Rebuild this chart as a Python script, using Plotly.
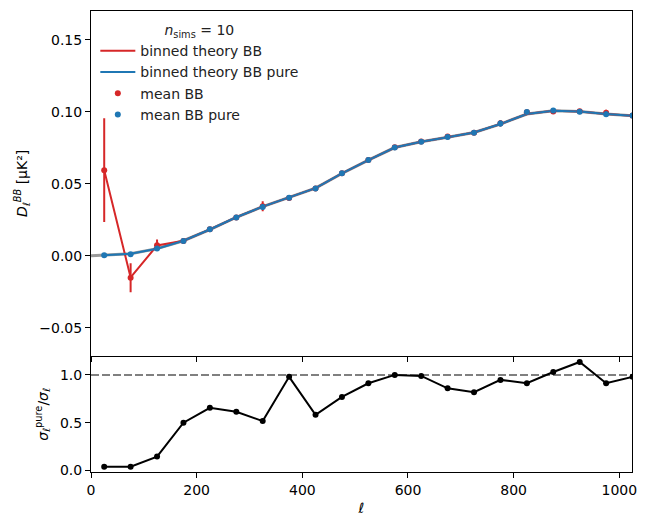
import plotly.graph_objects as go

# multipole bin centres
ell = [25, 75, 125, 175, 225, 275, 325, 375, 425, 475, 525,
       575, 625, 675, 725, 775, 825, 875, 925, 975, 1025]

# unbinned theory (grey underlay)
ell_full = [0, 25, 75, 125, 175, 225, 275, 325, 375, 425, 475, 525,
            575, 625, 675, 725, 775, 825, 875, 925, 975, 1025]
theory_full = [0.0, 0.0005, 0.0015, 0.0050, 0.0105, 0.0183, 0.0268, 0.0342,
               0.0405, 0.0470, 0.0572, 0.0665, 0.0752, 0.0792, 0.0823, 0.0857,
               0.0915, 0.0985, 0.1008, 0.1003, 0.0985, 0.0973]

theory_bb = [0.0595, -0.0150, 0.0072, 0.0105, 0.0183, 0.0268, 0.0342, 0.0405,
             0.0470, 0.0572, 0.0665, 0.0752, 0.0792, 0.0823, 0.0857, 0.0915,
             0.0985, 0.1008, 0.1003, 0.0985, 0.0973]
theory_bb_pure = [0.0005, 0.0015, 0.0050, 0.0105, 0.0183, 0.0268, 0.0342, 0.0405,
                  0.0470, 0.0572, 0.0665, 0.0752, 0.0792, 0.0823, 0.0857, 0.0915,
                  0.0985, 0.1008, 0.1003, 0.0985, 0.0973]

mean_bb = [0.0595, -0.0152, 0.0074, 0.0104, 0.0184, 0.0266, 0.0345, 0.0402,
           0.0468, 0.0574, 0.0666, 0.0754, 0.0794, 0.0828, 0.0855, 0.0920,
           0.0997, 0.1002, 0.1004, 0.0993, 0.0974]
err_bb = [0.036, 0.010, 0.004, 0.002, 0.0015, 0.0015, 0.0035, 0.0015, 0.0015,
          0.0015, 0.0015, 0.0015, 0.0015, 0.0018, 0.0015, 0.0022, 0.0015,
          0.0015, 0.0013, 0.0022, 0.0015]

mean_bb_pure = [0.0005, 0.0012, 0.0051, 0.0104, 0.0185, 0.0266, 0.0340, 0.0403,
                0.0468, 0.0574, 0.0665, 0.0752, 0.0792, 0.0826, 0.0854, 0.0919,
                0.0998, 0.1009, 0.1000, 0.0984, 0.0974]
err_bb_pure = [0.0014, 0.0004, 0.0006, 0.0010, 0.0010, 0.0009, 0.0018, 0.0015,
               0.0009, 0.0012, 0.0014, 0.0015, 0.0015, 0.0015, 0.0012, 0.0021,
               0.0014, 0.0015, 0.0015, 0.0020, 0.0015]

sigma_ratio = [0.04, 0.04, 0.146, 0.50, 0.656, 0.615, 0.517, 0.98, 0.583, 0.77,
               0.913, 1.0, 0.99, 0.86, 0.82, 0.948, 0.913, 1.03, 1.135, 0.913, 0.98]

RED = "#d62728"
BLUE = "#1f77b4"
FONT = "DejaVu Sans"
FS = 14

fig = go.Figure()

fig.add_trace(go.Scatter(x=ell_full, y=theory_full, mode="lines",
                         line=dict(color="rgba(128,128,128,0.8)", width=3),
                         showlegend=False, hoverinfo="skip", xaxis="x", yaxis="y"))
fig.add_trace(go.Scatter(x=ell, y=theory_bb, mode="lines", name="binned theory BB",
                         line=dict(color=RED, width=2), xaxis="x", yaxis="y"))
fig.add_trace(go.Scatter(x=ell, y=theory_bb_pure, mode="lines",
                         name="binned theory BB pure",
                         line=dict(color=BLUE, width=2), xaxis="x", yaxis="y"))
fig.add_trace(go.Scatter(x=ell, y=mean_bb, mode="markers", name="mean BB",
                         marker=dict(color=RED, size=6),
                         error_y=dict(type="data", array=err_bb, color=RED,
                                      thickness=2, width=0),
                         xaxis="x", yaxis="y"))
fig.add_trace(go.Scatter(x=ell, y=mean_bb_pure, mode="markers", name="mean BB pure",
                         marker=dict(color=BLUE, size=6),
                         error_y=dict(type="data", array=err_bb_pure, color=BLUE,
                                      thickness=2, width=0),
                         xaxis="x", yaxis="y"))
fig.add_trace(go.Scatter(x=ell, y=sigma_ratio, mode="lines+markers",
                         line=dict(color="black", width=2),
                         marker=dict(color="black", size=6),
                         showlegend=False, xaxis="x2", yaxis="y2"))

axis_common = dict(showline=True, linecolor="black", linewidth=1, mirror=True,
                   ticks="outside", ticklen=5, tickcolor="black", tickwidth=1,
                   showgrid=False, zeroline=False,
                   tickfont=dict(family=FONT, size=FS, color="black"))

fig.update_layout(
    width=647, height=526,
    margin=dict(l=91, r=13, t=10, b=54),
    plot_bgcolor="white", paper_bgcolor="white",
    font=dict(family=FONT, size=FS, color="black"),
    xaxis=dict(domain=[0, 1], range=[0, 1024], anchor="y", matches="x2",
               showticklabels=False, tickvals=[0, 200, 400, 600, 800, 1000],
               **axis_common),
    yaxis=dict(domain=[0.252, 1], range=[-0.0694, 0.170], anchor="x",
               tickvals=[-0.05, 0.0, 0.05, 0.10, 0.15], tickformat=".2f",
               title=dict(text="<i>D</i><sub><i>ℓ</i></sub><sup><i>BB</i></sup> [μK²]",
                          font=dict(family=FONT, size=FS), standoff=8),
               **axis_common),
    xaxis2=dict(domain=[0, 1], range=[0, 1024], anchor="y2",
                tickvals=[0, 200, 400, 600, 800, 1000],
                title=dict(text="<i>ℓ</i>", font=dict(family=FONT, size=FS),
                           standoff=6),
                **axis_common),
    yaxis2=dict(domain=[0, 0.25], range=[-0.015, 1.19], anchor="x2",
                tickvals=[0.0, 0.5, 1.0], tickformat=".1f",
                title=dict(text="<i>σ</i><sub><i>ℓ</i></sub><sup>pure</sup>/<i>σ</i><sub><i>ℓ</i></sub>",
                           font=dict(family=FONT, size=FS), standoff=8),
                **axis_common),
    legend=dict(x=0.008, y=0.987, xref="paper", yref="paper",
                xanchor="left", yanchor="top",
                bgcolor="rgba(255,255,255,0)", borderwidth=0,
                font=dict(family=FONT, size=FS, color="#222"),
                title=dict(text="<i>n</i><sub>sims</sub> = 10", side="top center",
                           font=dict(family=FONT, size=FS)),
                tracegroupgap=0, itemwidth=35),
    shapes=[dict(type="line", xref="x2 domain", yref="y2", x0=0, x1=1, y0=1, y1=1,
                 line=dict(color="gray", width=2, dash="8px,3px"), layer="below")],
)

fig.write_html("out.html")
